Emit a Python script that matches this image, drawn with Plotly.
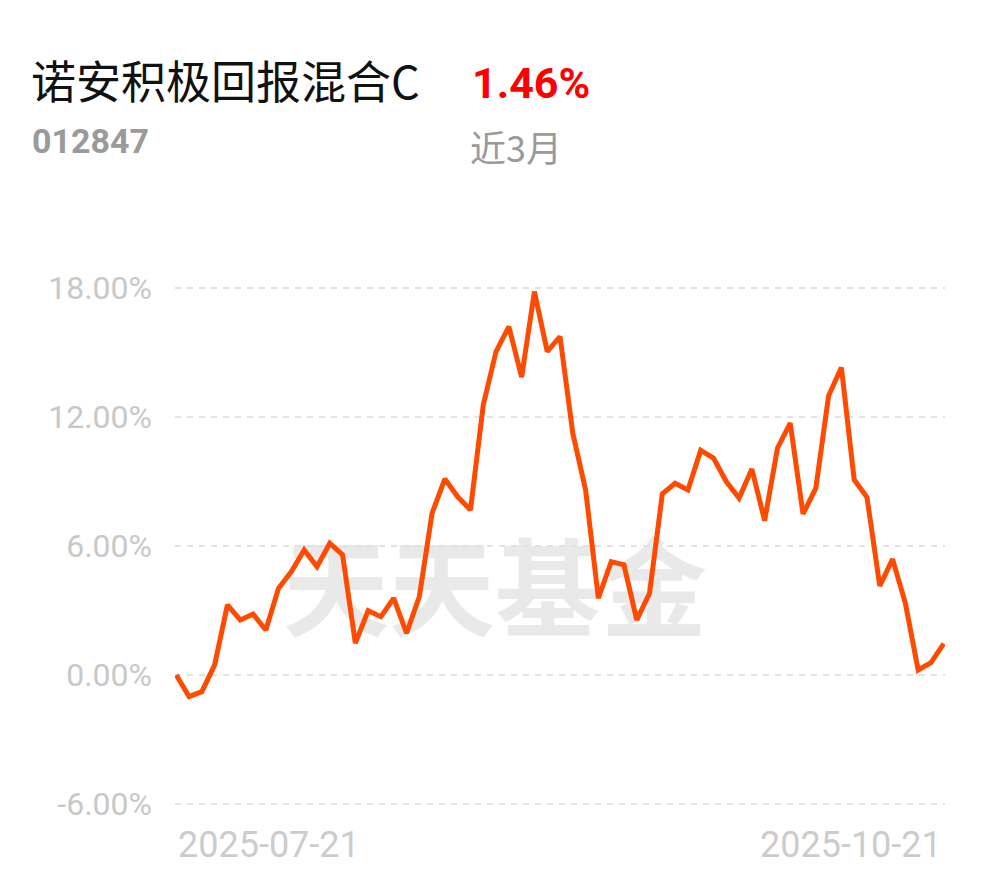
import plotly.graph_objects as go

fund_name = "诺安积极回报混合C"
fund_code = "012847"
period_return = "1.46%"
period_label = "近3月"
watermark = "天天基金"

dates = [
    "2025-07-21", "2025-07-22", "2025-07-23", "2025-07-24", "2025-07-25",
    "2025-07-28", "2025-07-29", "2025-07-30", "2025-07-31", "2025-08-01",
    "2025-08-04", "2025-08-05", "2025-08-06", "2025-08-07", "2025-08-08",
    "2025-08-11", "2025-08-12", "2025-08-13", "2025-08-14", "2025-08-15",
    "2025-08-18", "2025-08-19", "2025-08-20", "2025-08-21", "2025-08-22",
    "2025-08-25", "2025-08-26", "2025-08-27", "2025-08-28", "2025-08-29",
    "2025-09-01", "2025-09-02", "2025-09-03", "2025-09-04", "2025-09-05",
    "2025-09-08", "2025-09-09", "2025-09-10", "2025-09-11", "2025-09-12",
    "2025-09-15", "2025-09-16", "2025-09-17", "2025-09-18", "2025-09-19",
    "2025-09-22", "2025-09-23", "2025-09-24", "2025-09-25", "2025-09-26",
    "2025-09-29", "2025-09-30", "2025-10-09", "2025-10-10", "2025-10-13",
    "2025-10-14", "2025-10-15", "2025-10-16", "2025-10-17", "2025-10-20",
    "2025-10-21",
]

returns = [
    0.00, -1.01, -0.78, 0.47, 3.26, 2.56, 2.83, 2.09, 4.04, 4.81,
    5.82, 5.04, 6.13, 5.59, 1.48, 2.99, 2.71, 3.57, 1.94, 3.64,
    7.53, 9.12, 8.29, 7.68, 12.57, 15.05, 16.21, 13.86, 17.84, 15.05,
    15.75, 11.25, 8.61, 3.57, 5.27, 5.12, 2.56, 3.80, 8.43, 8.92,
    8.61, 10.45, 10.09, 9.00, 8.23, 9.58, 7.18, 10.55, 11.72, 7.49,
    8.69, 12.99, 14.31, 9.08, 8.27, 4.14, 5.39, 3.34, 0.23, 0.57,
    1.46,
]

y_ticks = [-6, 0, 6, 12, 18]
y_tick_labels = ["-6.00%", "0.00%", "6.00%", "12.00%", "18.00%"]
x_tick_labels = [dates[0], dates[-1]]

idx = list(range(len(dates)))

fig = go.Figure()
fig.add_trace(go.Scatter(
    x=idx, y=returns, mode="lines",
    line=dict(color="#FF4B00", width=5),
    hoverinfo="skip", showlegend=False,
))

W, H = 990, 878
L, R, T, B = 175, 45, 286, 72
pw, ph = W - L - R, H - T - B


def px(x):
    return (x - L) / pw


def py(y):
    return (H - B - y) / ph


annotations = [
    dict(text=fund_name, x=px(29), y=py(79), xref="paper", yref="paper",
         xanchor="left", yanchor="middle", showarrow=False,
         font=dict(family="Noto Sans CJK SC", size=45, color="#111111")),
    dict(text="<b>" + period_return + "</b>", x=px(470), y=py(83), xref="paper", yref="paper",
         xanchor="left", yanchor="middle", showarrow=False,
         font=dict(family="Roboto", size=43, color="#FF0000")),
    dict(text="<b>" + fund_code + "</b>", x=px(30), y=py(141), xref="paper", yref="paper",
         xanchor="left", yanchor="middle", showarrow=False,
         font=dict(family="Roboto", size=34, color="#9A9A9A")),
    dict(text=period_label, x=px(468), y=py(146), xref="paper", yref="paper",
         xanchor="left", yanchor="middle", showarrow=False,
         font=dict(family="Noto Sans CJK SC", size=36, color="#9A9A9A")),
    dict(text=x_tick_labels[0], x=idx[0], y=py(845), xref="x", yref="paper",
         xanchor="left", yanchor="middle", showarrow=False,
         font=dict(family="Roboto", size=36, color="#CCCCCC")),
    dict(text=x_tick_labels[1], x=idx[-1], y=py(845), xref="x", yref="paper",
         xanchor="right", yanchor="middle", showarrow=False,
         font=dict(family="Roboto", size=36, color="#CCCCCC")),
]

shapes = [
    dict(type="rect", xref="paper", yref="paper",
         x0=px(284), x1=px(706), y0=py(650), y1=py(548),
         line=dict(width=0), fillcolor="rgba(0,0,0,0)", layer="below",
         label=dict(text="<b>" + watermark + "</b>", textposition="middle center",
                    font=dict(family="Noto Sans CJK SC", size=106, color="#E9E9E9"))),
]

fig.update_layout(
    width=W, height=H,
    margin=dict(l=L, r=R, t=T, b=B),
    paper_bgcolor="white", plot_bgcolor="white",
    showlegend=False,
    annotations=annotations,
    shapes=shapes,
    xaxis=dict(range=[-0.1, len(dates) - 1 + 0.1], showgrid=False, zeroline=False,
               showticklabels=False, showline=False, ticks=""),
    yaxis=dict(range=[-6.1, 18.1], tickvals=y_ticks, ticktext=y_tick_labels,
               showgrid=True, gridcolor="#E2E2E2", gridwidth=2, griddash="6px,6px",
               zeroline=False, showline=False, ticks="",
               ticklabelstandoff=22,
               tickfont=dict(family="Roboto", size=32, color="#C8C8C8")),
)

fig.write_html("out.html", config={"displayModeBar": False},
               post_script="document.body.style.margin='0';")
